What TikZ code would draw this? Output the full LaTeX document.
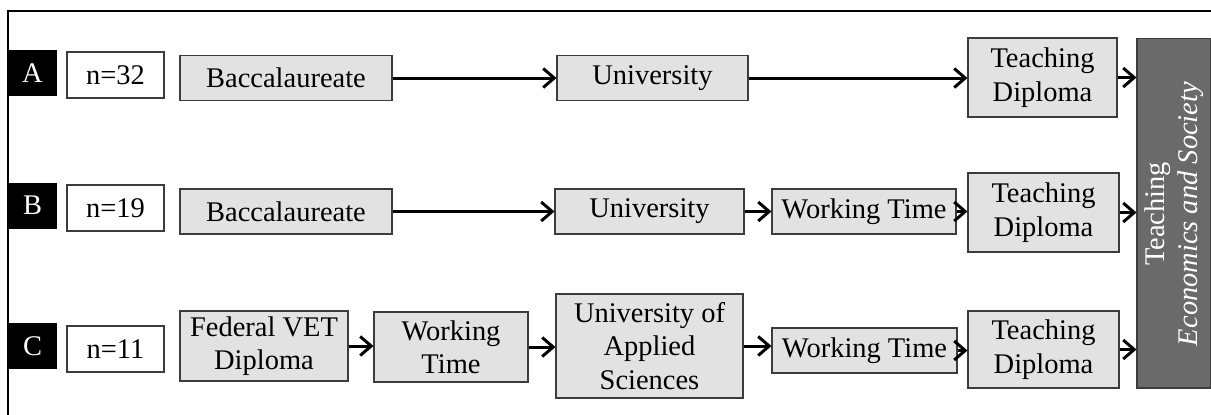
\documentclass[tikz,border=0pt]{standalone}
\usepackage{fontspec}
\setmainfont{Liberation Serif}
\usetikzlibrary{arrows.meta}
\definecolor{boxfill}{HTML}{E2E2E2}
\definecolor{boxdraw}{HTML}{3C3C3C}
\definecolor{darkfill}{HTML}{6A6A6A}
\tikzset{
  every node/.style={font=\fontsize{16.2}{19}\selectfont, inner sep=0pt, align=center},
  lab/.style={fill=black, text=white, minimum width=0.98cm, minimum height=0.92cm},
  nbox/.style={draw=boxdraw, line width=0.6pt, fill=white, minimum width=1.94cm, minimum height=0.92cm},
  gbox/.style={draw=boxdraw, line width=0.6pt, fill=boxfill},
  darkbox/.style={draw=boxdraw, line width=0.6pt, fill=darkfill, text=white, minimum width=1.48cm, minimum height=7.0cm},
  conn/.style={line width=1.7pt, -{Straight Barb[length=2.2mm,width=3.8mm,line width=1.7pt]}},
  frame/.style={line width=1.1pt}
}
\begin{document}
\begin{tikzpicture}[x=0.02cm,y=-0.02cm]
\useasboundingbox[fill=white] (0,0) rectangle (1211,414);
\draw[frame] (8,416) -- (8,11) -- (1213,11);

% dark target box
\node[darkbox] (dark) at (1174,213) {};
\node[rotate=90, text=white] (darktxt) at (1174,214) {Teaching\\\textit{Economics and Society}};

% Row A
\node[lab] (la) at (32.5,73) {A};
\node[nbox] (na) at (115.5,75) {n=32};
\node[gbox, minimum width=4.24cm, minimum height=0.90cm] (bacA) at (286,78) {Baccalaureate};
\node[gbox, minimum width=3.82cm, minimum height=0.90cm] (uniA) at (652.5,78) {University};
\node[gbox, minimum width=2.98cm, minimum height=1.58cm] (tdA) at (1042.5,77.5) {Teaching\\Diploma};
\draw[conn] (bacA.east) -- (bacA.east -| uniA.west);
\draw[conn] (uniA.east) -- (uniA.east -| tdA.west);
\draw[conn] (tdA.east) -- (tdA.east -| dark.west);

% Row B
\node[lab] (lb) at (32.5,205.5) {B};
\node[nbox] (nb) at (115.5,208) {n=19};
\node[gbox, minimum width=4.24cm, minimum height=0.90cm] (bacB) at (286,211.5) {Baccalaureate};
\node[gbox, minimum width=3.78cm, minimum height=0.90cm] (uniB) at (649.5,211.5) {University};
\node[gbox, minimum width=3.68cm, minimum height=0.90cm] (wtB) at (864,211.5) {Working Time};
\node[gbox, minimum width=3.02cm, minimum height=1.58cm] (tdB) at (1043.5,212.5) {Teaching\\Diploma};
\draw[conn] (bacB.east) -- (bacB.east -| uniB.west);
\draw[conn] (uniB.east) -- (uniB.east -| wtB.west);
\draw[conn] (wtB.east) -- (wtB.east -| tdB.west);
\draw[conn] (tdB.east) -- (tdB.east -| dark.west);

% Row C
\node[lab] (lc) at (32.5,346) {C};
\node[nbox] (nc) at (115.5,349) {n=11};
\node[gbox, minimum width=3.36cm, minimum height=1.40cm] (fed) at (264,346) {Federal VET\\Diploma};
\node[gbox, minimum width=3.08cm, minimum height=1.40cm] (wtC1) at (451,347) {Working\\Time};
\node[gbox, minimum width=3.74cm, minimum height=2.08cm] (uas) at (649.5,346) {University of\\Applied\\Sciences};
\node[gbox, minimum width=3.70cm, minimum height=0.90cm] (wtC2) at (864.5,350.5) {Working Time};
\node[gbox, minimum width=3.02cm, minimum height=1.54cm] (tdC) at (1043.5,349.5) {Teaching\\Diploma};
\draw[conn] (fed.east) -- (fed.east -| wtC1.west);
\draw[conn] (wtC1.east) -- (wtC1.east -| uas.west);
\draw[conn] (uas.east) -- (uas.east -| wtC2.west);
\draw[conn] (wtC2.east) -- (wtC2.east -| tdC.west);
\draw[conn] (tdC.east) -- (tdC.east -| dark.west);
\end{tikzpicture}
\end{document}
